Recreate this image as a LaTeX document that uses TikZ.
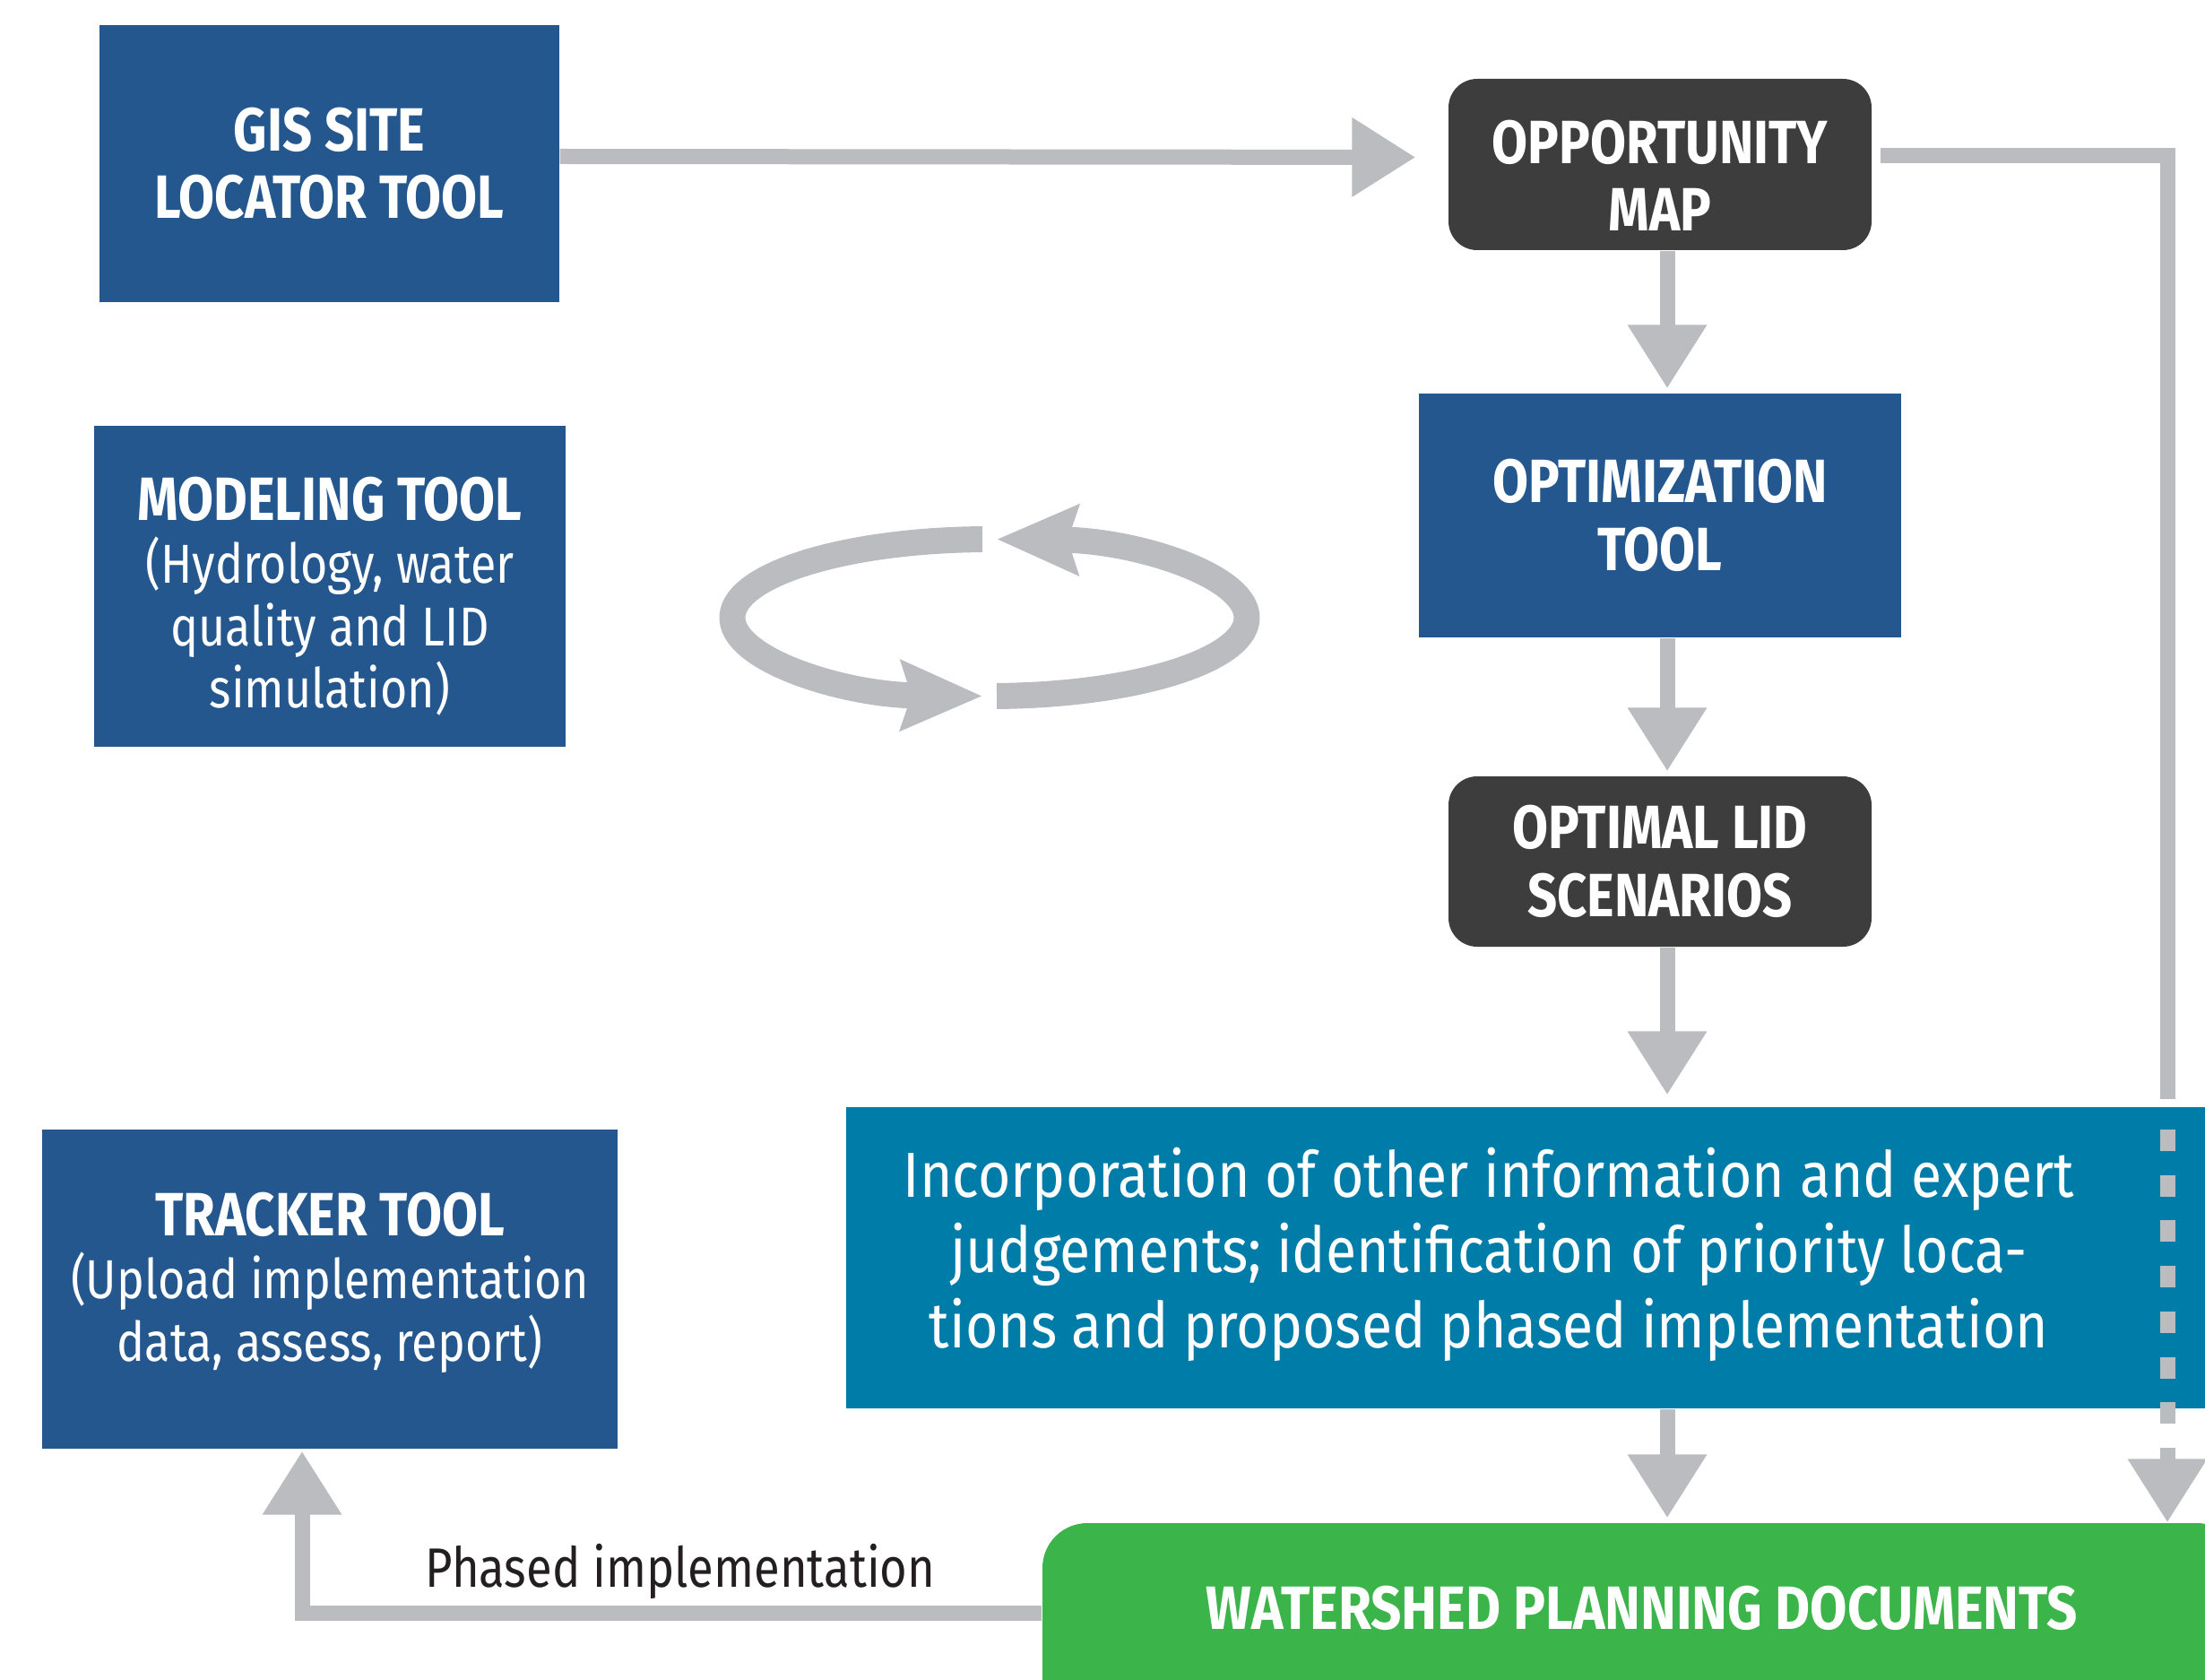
\documentclass[tikz,border=0pt]{standalone}
\usepackage{fontspec}
\setmainfont[FakeStretch=0.85]{Fira Sans}
\usetikzlibrary{arrows.meta}
\definecolor{toolblue}{RGB}{35,87,141}
\definecolor{mapgray}{RGB}{61,61,61}
\definecolor{infoteal}{RGB}{0,124,168}
\definecolor{docsgreen}{RGB}{59,180,74}
\definecolor{arrowgray}{RGB}{187,188,192}
\definecolor{labelink}{RGB}{35,31,32}
\tikzset{
    toolbox/.style={fill=toolblue, text=white, align=center, inner sep=0pt},
    mapbox/.style={fill=mapgray, text=white, align=center, inner sep=0pt, rounded corners=.32cm},
    heading/.style={font=\fontsize{19.4}{21.5}\selectfont\bfseries},
    bodytext/.style={font=\fontsize{17.4}{19.9}\selectfont},
    flowline/.style={draw=arrowgray, line width=.17cm},
    flow/.style={flowline, -{Triangle[length=.71cm,width=.84cm]}},
    loopflow/.style={draw=arrowgray, line width=.29cm, -{Stealth[length=.9cm,width=.76cm,inset=.11cm]}}
}
\begin{document}
\begin{tikzpicture}
    \useasboundingbox (0,0) rectangle (24.6,-18.74);
    \node [toolbox, heading, minimum width=5.13cm, minimum height=3.09cm] (gis) at (3.675,-1.825) {GIS SITE\\LOCATOR TOOL};
    \node [toolbox, bodytext, minimum width=5.26cm, minimum height=3.58cm] (model) at (3.68,-6.54) {\rule{0pt}{.71cm}{\bfseries\fontsize{19.4}{19.9}\selectfont MODELING TOOL}\\(Hydrology, water\\quality and LID\\simulation)};
    \node [toolbox, bodytext, minimum width=6.42cm, minimum height=3.56cm] (tracker) at (3.68,-14.38) {{\bfseries\fontsize{19.4}{19.9}\selectfont TRACKER TOOL}\\(Upload implementation\\data, assess, report)\rule[-.28cm]{0pt}{0pt}};
    \node [mapbox, heading, minimum width=4.72cm, minimum height=1.91cm] (opp) at (18.52,-1.835) {\rule{0pt}{.73cm}OPPORTUNITY\\MAP};
    \node [toolbox, heading, minimum width=5.38cm, minimum height=2.72cm] (optim) at (18.52,-5.75) {OPTIMIZATION\\TOOL};
    \node [mapbox, heading, minimum width=4.72cm, minimum height=1.90cm] (lid) at (18.52,-9.61) {OPTIMAL LID\\SCENARIOS};
    \node [fill=infoteal, text=white, inner sep=0pt, minimum width=15.26cm, minimum height=3.36cm, font=\fontsize{20.2}{23.9}\selectfont\addfontfeatures{FakeStretch=.88}] (info) at (17.07,-14.03) {\begin{tabular}{@{}c@{}}Incorporation of other information and expert\\judgements; identification of priority loca-\\tions and proposed phased implementation\end{tabular}\hspace*{.92cm}};
    \node [fill=docsgreen, text=white, heading, rounded corners=.5cm, inner sep=0pt, minimum width=13.38cm, text height=1.18cm, text depth=1.83cm, anchor=base] (docs) at (18.32,-18.17) {\addfontfeatures{FakeStretch=.88}WATERSHED PLANNING DOCUMENTS};
    \node [anchor=base, text=labelink, font=\fontsize{17.6}{20}\selectfont] (phase) at (7.59,-17.70) {Phased implementation};
    \coordinate (rbend) at (24.18,-12.26);
    \coordinate (dotstart) at (24.18,-12.60);
    \coordinate (dotend) at (24.18,-15.88);
    \coordinate (drop) at (24.18,-16.15);
    \draw [flow, shorten >=.36cm] ([yshift=.08cm]gis.east) -- ([yshift=.08cm]opp.west);
    \draw [flow, shorten >=.05cm] ([xshift=.08cm]opp.south) -- ([xshift=.08cm]optim.north);
    \draw [flow, shorten >=.05cm] ([xshift=.08cm]optim.south) -- ([xshift=.08cm]lid.north);
    \draw [flow, shorten >=.13cm] ([xshift=.08cm]lid.south) -- ([xshift=.08cm]lid.south |- info.north);
    \draw [flow, shorten >=.05cm] ([xshift=.08cm]info.south -| lid.south) -- ([xshift=.08cm]docs.north -| lid.south);
    \draw [flow, shorten >=.02cm] ([yshift=-1.01cm]docs.north west) -| ([xshift=-.31cm]tracker.south);
    \draw [flowline] ([xshift=.09cm,yshift=.1cm]opp.east) -| (rbend);
    \draw [flowline, dash pattern=on .24cm off .267cm] (dotstart) -- (dotend);
    \draw [flow] (drop) -- (docs.north -| drop);
    \draw [loopflow] (11.04,-6.89) ++(91.6:2.87 and .875) arc [start angle=91.6, end angle=268.4, x radius=2.87, y radius=.875];
    \draw [loopflow] (11.04,-6.89) ++(271.6:2.87 and .875) arc [start angle=271.6, end angle=448.4, x radius=2.87, y radius=.875];
\end{tikzpicture}
\end{document}
